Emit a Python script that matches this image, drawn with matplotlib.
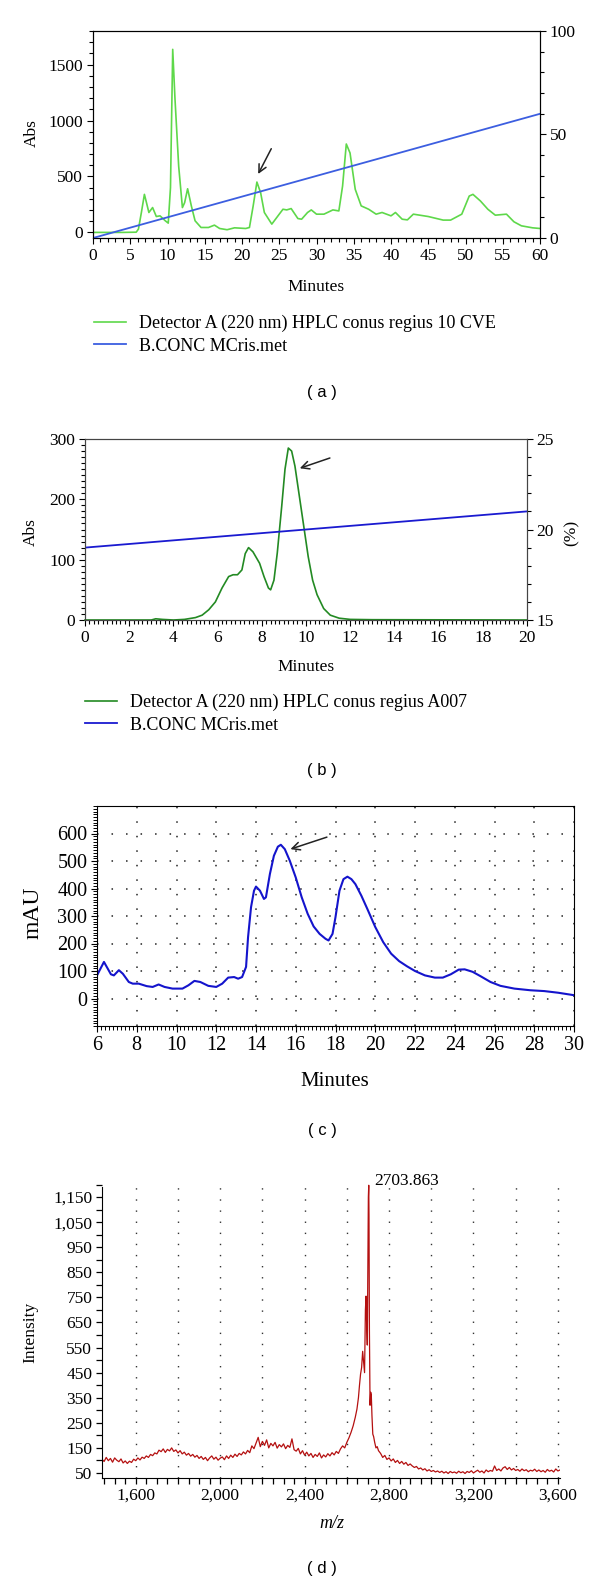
import matplotlib.pyplot as plt
import numpy as np
from matplotlib.ticker import MultipleLocator, FuncFormatter

plt.rcParams['font.family'] = ['Liberation Serif', 'DejaVu Serif']

W, H = 600, 1585

# ---------------- data: panel (a) ----------------
a_time = [0, 2, 4, 5.8, 6.1, 6.5, 6.9, 7.2, 7.5, 8.0, 8.5, 9.0, 9.7, 10.1, 10.4,
          10.7, 11.0, 11.5, 12.0, 12.3, 12.7, 13.2, 13.7, 14.5, 15.5, 16.3, 17.0,
          18.0, 19.0, 20.5, 21.0, 21.5, 22.0, 22.5, 23.0, 24.0, 25.0, 25.5, 26.0,
          26.6, 27.5, 28.0, 28.8, 29.3, 30.0, 31.0, 32.2, 33.0, 33.5, 34.0, 34.5,
          35.2, 36.0, 37.0, 38.0, 38.8, 40.0, 40.6, 41.5, 42.2, 43.0, 45.0, 47.0,
          48.0, 49.5, 50.5, 51.0, 52.0, 53.0, 54.0, 55.5, 56.5, 57.5, 59.0, 60.0]
a_abs = [0, 0, 0, 2, 30, 180, 340, 260, 178, 222, 142, 148, 104, 83, 400,
         1636, 1200, 592, 222, 266, 390, 237, 104, 44, 44, 65, 35,
         24, 41, 35, 44, 237, 450, 355, 178, 74, 163, 207, 201,
         213, 124, 118, 178, 201, 163, 163, 201, 192, 414, 790, 710,
         385, 237, 207, 163, 178, 148, 178, 118, 112, 163, 142, 110,
         110, 163, 325, 340, 281, 207, 154, 163, 95, 59, 41, 35]
a_grad_time = [0, 0, 60]
a_grad_pct = [14, 0, 60]
a_arrow_tail = (24.1, 770)
a_arrow_head = (22.0, 500)
a_labels = ["Detector A (220 nm) HPLC conus regius 10 CVE", "B.CONC MCris.met"]

# ---------------- data: panel (b) ----------------
b_time = [0, 3.0, 3.2, 3.5, 4.0, 4.5, 5.0, 5.3, 5.6, 5.9, 6.2, 6.5, 6.7, 6.9, 7.1,
          7.25, 7.4, 7.6, 7.9, 8.1, 8.3, 8.4, 8.55, 8.7, 8.9, 9.05, 9.2, 9.35, 9.5,
          9.7, 9.9, 10.1, 10.3, 10.5, 10.8, 11.1, 11.5, 12.0, 13.0, 20.0]
b_abs = [0, 0, 2, 1, 0, 1, 4, 8, 17, 30, 53, 72, 75, 75, 83,
         110, 120, 113, 94, 72, 53, 50, 66, 111, 188, 250, 285, 280, 255,
         205, 155, 105, 66, 42, 19, 8, 3, 1, 0.5, 0]
b_grad_time = [0, 0, 20]
b_grad_pct = [15, 19, 21]
b_arrow_tail = (11.2, 270)
b_arrow_head = (9.6, 250)
b_labels = ["Detector A (220 nm) HPLC conus regius A007", "B.CONC MCris.met"]

# ---------------- data: panel (c) ----------------
c_time = [6.0, 6.35, 6.7, 6.85, 7.1, 7.3, 7.6, 7.8, 8.1, 8.5, 8.8, 9.1, 9.4, 9.8,
          10.3, 10.6, 10.9, 11.2, 11.6, 12.0, 12.3, 12.6, 12.9, 13.1, 13.3, 13.5,
          13.6, 13.75, 13.9, 14.0, 14.2, 14.4, 14.5, 14.7, 14.9, 15.1, 15.25, 15.45,
          15.7, 16.0, 16.3, 16.6, 16.9, 17.2, 17.5, 17.65, 17.85, 18.0, 18.2, 18.4,
          18.6, 18.8, 19.0, 19.3, 19.6, 20.0, 20.4, 20.8, 21.2, 21.6, 22.0, 22.5,
          23.0, 23.4, 23.8, 24.2, 24.5, 24.9, 25.3, 25.8, 26.3, 27.0, 27.8, 28.5,
          29.2, 30.0]
c_mau = [84, 133, 88, 84, 103, 90, 60, 54, 54, 45, 42, 51, 42, 36,
         36, 48, 64, 60, 46, 42, 54, 76, 78, 72, 78, 115,
         223, 332, 392, 407, 392, 362, 368, 453, 519, 552, 559, 543,
         501, 440, 368, 308, 262, 235, 217, 211, 235, 296, 392, 434,
         443, 434, 416, 374, 326, 260, 205, 163, 136, 117, 100, 84,
         76, 76, 88, 105, 106, 97, 81, 60, 46, 36, 30, 27,
         21, 12]
c_arrow_tail = (17.7, 590)
c_arrow_head = (15.6, 540)

# ---------------- data: panel (d) ----------------
d_mz = list(range(1440, 2610, 10)) + \
    [2610, 2620, 2630, 2640, 2648, 2655, 2660, 2665, 2670, 2675, 2680, 2684, 2688,
     2691, 2694, 2697, 2700, 2702, 2703.863, 2705, 2707, 2710, 2713, 2716, 2719,
     2723, 2727, 2732, 2738, 2744, 2750] + list(range(2760, 3620, 10))
d_int = [104, 96, 112, 99, 108, 93, 110, 101, 95, 106, 90, 98,
         88, 97, 92, 105, 99, 110, 102, 113, 108, 118, 112, 124, 119, 130,
         126, 141, 135, 146, 132, 144, 138, 150, 136, 142, 130,
         139, 126, 133, 121, 128, 117, 124, 113, 120, 108,
         116, 104, 112, 99, 110, 118, 105, 113, 101, 109,
         114, 103, 118, 108, 121, 112, 125, 116, 128, 122,
         134, 126, 140, 131, 158, 147, 170, 192, 155, 176,
         160, 182, 150, 168, 158, 172, 149, 163, 154, 166,
         147, 160, 152, 186, 143, 137, 148, 126, 139, 121,
         133, 118, 128, 112, 124, 116, 130, 110, 122, 114,
         127, 118, 131, 122, 136, 128, 146, 158, 150, 172,
         190, 212, 238, 272, 305, 350, 400, 444, 470, 535, 490, 450, 700,
         755, 640, 560, 900, 1150, 1197, 1080, 620, 320, 372, 360, 280,
         205, 195, 172, 150, 155, 139,
         128, 112, 120, 104, 110, 98, 106, 92, 100, 88, 96, 85, 92, 80, 86,
         78, 72, 76, 66, 70, 62, 67, 58, 63, 56,
         60, 54, 58, 52, 57, 50, 55, 48, 56, 51,
         54, 49, 57, 51, 55, 48, 56, 52, 59, 50,
         56, 61, 53, 58, 50, 62, 55, 60, 57, 78,
         60, 66, 58, 70, 75, 64, 72, 62, 68, 60,
         64, 57, 66, 59, 63, 55, 61, 58, 65, 56,
         62, 55, 60, 53, 64, 57, 61, 54, 66, 58, 62]
d_peak_label = "2703.863"


def box(l, t, r, b):
    # pixel box (left, top, right, bottom) -> figure fraction rect
    return [l / W, 1 - b / H, (r - l) / W, (b - t) / H]


def ftext(x, y, s, **kw):
    fig.text(x / W, 1 - y / H, s, ha='center', va='center', **kw)


def legend_at(handles, labels, x, y):
    fig.legend(handles, labels, loc='upper left', bbox_to_anchor=(x / W, 1 - y / H),
               frameon=False, fontsize=13, handlelength=1.75, handletextpad=0.75,
               labelspacing=0.3, borderpad=0, borderaxespad=0)


fig = plt.figure(figsize=(W / 100, H / 100), dpi=100)
arrow = dict(arrowstyle='->', lw=1.1, color='#222222', mutation_scale=14)

# ---------------- panel (a) ----------------
ax = fig.add_axes(box(93, 31, 540, 238))
ax2 = ax.twinx()
g1, = ax.plot(a_time, a_abs, color='#5ed84a', lw=1.2)
b1, = ax2.plot(a_grad_time, a_grad_pct, color='#3c5ee0', lw=1.3)
ax.set_xlim(0, 60)
ax.set_ylim(-50, 1800)
ax2.set_ylim(0, 100)
ax.xaxis.set_major_locator(MultipleLocator(5))
ax.xaxis.set_minor_locator(MultipleLocator(1))
ax.yaxis.set_major_locator(MultipleLocator(500))
ax.yaxis.set_minor_locator(MultipleLocator(100))
ax2.yaxis.set_major_locator(MultipleLocator(50))
ax2.yaxis.set_minor_locator(MultipleLocator(10))
for a in (ax, ax2):
    a.tick_params(which='major', direction='out', length=4, width=0.8, labelsize=12.5, pad=3)
    a.tick_params(which='minor', direction='out', length=3, width=0.8)
ax.annotate('', xy=a_arrow_head, xytext=a_arrow_tail, arrowprops=arrow)
ftext(316, 287, 'Minutes', fontsize=12.5)
ftext(32, 133, 'Abs', fontsize=12.5, rotation=90)
legend_at([g1, b1], a_labels, 94, 315)
ftext(322, 393, '( a )', fontsize=12, family='Liberation Sans')

# ---------------- panel (b) ----------------
ax = fig.add_axes(box(85, 439, 527, 620))
ax2 = ax.twinx()
g2, = ax.plot(b_time, b_abs, color='#238a23', lw=1.2, clip_on=False)
b2, = ax2.plot(b_grad_time, b_grad_pct, color='#1a1ad0', lw=1.3)
ax.set_xlim(0, 20)
ax.set_ylim(0, 300)
ax2.set_ylim(15, 25)
ax.xaxis.set_major_locator(MultipleLocator(2))
ax.xaxis.set_minor_locator(MultipleLocator(0.2))
ax.yaxis.set_major_locator(MultipleLocator(100))
ax.yaxis.set_minor_locator(MultipleLocator(10))
ax2.yaxis.set_major_locator(MultipleLocator(5))
ax2.yaxis.set_minor_locator(MultipleLocator(1))
for a in (ax, ax2):
    a.tick_params(which='major', direction='out', length=4, width=0.8, labelsize=12.5, pad=3)
    a.tick_params(which='minor', direction='out', length=3, width=0.8)
for a in (ax, ax2):
    for s in a.spines.values():
        s.set_color('#444444')
ax.annotate('', xy=b_arrow_head, xytext=b_arrow_tail, arrowprops=arrow)
ftext(306, 667, 'Minutes', fontsize=12.5)
ftext(31, 532, 'Abs', fontsize=12.5, rotation=90)
ftext(572, 533, '(%)', fontsize=12.5, rotation=90)
legend_at([g2, b2], b_labels, 85, 694)
ftext(322, 770, '( b )', fontsize=12, family='Liberation Sans')

# ---------------- panel (c) ----------------
ax = fig.add_axes(box(97, 806, 574, 1026))
ax.plot(c_time, c_mau, color='#1414cc', lw=1.5)
ax.set_xlim(6, 30)
ax.set_ylim(-100, 700)
ax.xaxis.set_major_locator(MultipleLocator(2))
ax.xaxis.set_minor_locator(MultipleLocator(0.2))
ax.set_yticks([0, 100, 200, 300, 400, 500, 600])
ax.yaxis.set_minor_locator(MultipleLocator(10))
ax.tick_params(which='major', direction='out', length=4, width=0.8, labelsize=14.5, pad=3)
ax.tick_params(which='minor', direction='out', length=3, width=0.7)
ax.grid(True, which='major', color='#222222', lw=1.1, linestyle=(0, (1, 8.5)))
ax.annotate('', xy=c_arrow_head, xytext=c_arrow_tail, arrowprops=arrow)
ftext(335, 1082, 'Minutes', fontsize=15)
ftext(33, 913, 'mAU', fontsize=17, rotation=90)
ftext(322, 1130, '( c )', fontsize=12, family='Liberation Sans')

# ---------------- panel (d) ----------------
ax = fig.add_axes(box(102, 1180, 560, 1478))
ax.plot(d_mz, d_int, color='#b41010', lw=0.9)
ax.set_xlim(1440, 3610)
ax.set_ylim(30, 1218)
for v in range(1600, 3601, 200):
    ax.axvline(v, color='#333333', lw=1.0, linestyle=(0, (1, 7)), zorder=0)
ax.spines['top'].set_visible(False)
ax.spines['right'].set_visible(False)
ax.spines['left'].set_bounds(30, 1190)
ax.xaxis.set_major_locator(MultipleLocator(400))
ax.xaxis.set_minor_locator(MultipleLocator(50))
ax.set_yticks(list(range(50, 1151, 100)))
ax.yaxis.set_minor_locator(MultipleLocator(50))
ax.xaxis.set_major_formatter(FuncFormatter(lambda v, p: '{:,.0f}'.format(v)))
ax.yaxis.set_major_formatter(FuncFormatter(lambda v, p: '{:,.0f}'.format(v)))
ax.tick_params(which='both', direction='out', length=4, width=0.9, labelsize=12.5, pad=3)
ax.annotate(d_peak_label, xy=(2703.863, 1197), xytext=(4, 3), textcoords='offset points',
            fontsize=12.5, va='center', ha='left', annotation_clip=False)
ftext(332, 1523, 'm/z', fontsize=13, style='italic')
ftext(30, 1332, 'Intensity', fontsize=12.5, rotation=90)
ftext(322, 1568, '( d )', fontsize=12, family='Liberation Sans')

fig.savefig('out.png', dpi=100)
